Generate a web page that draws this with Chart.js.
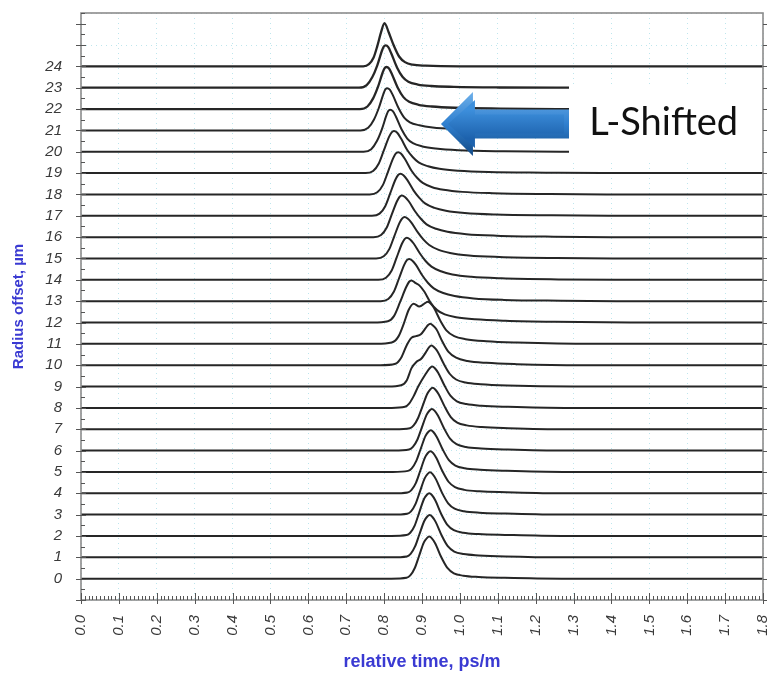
<!DOCTYPE html>
<html>
<head>
<meta charset="utf-8">
<script src="https://cdn.jsdelivr.net/npm/chart.js@4.4.0/dist/chart.umd.min.js"></script>
<style>
  html, body { margin: 0; padding: 0; background: #fff; }
  #wrap { width: 768px; height: 673px; position: relative; }
</style>
</head>
<body>
<div id="wrap"><canvas id="myChart"></canvas></div>
<script>
'use strict';

// radius offset of each trace (um)
const offsets = [0, 1, 2, 3, 4, 5, 6, 7, 8, 9, 10, 11, 12, 13, 14, 15, 16, 17, 18, 19, 20, 21, 22, 23, 24];

// relative time (ps/m) of the points
const traceTimes = [
  [0, 0.819, 0.859, 0.869, 0.881, 0.892, 0.905, 0.913, 0.919, 0.926, 0.935, 0.951, 0.967, 0.984, 1.009, 1.049, 1.119, 1.269, 1.8],
  [0, 0.82, 0.86, 0.87, 0.882, 0.893, 0.906, 0.914, 0.92, 0.927, 0.936, 0.952, 0.968, 0.985, 1.01, 1.05, 1.12, 1.27, 1.8],
  [0, 0.819, 0.859, 0.869, 0.881, 0.892, 0.905, 0.913, 0.919, 0.926, 0.935, 0.951, 0.967, 0.984, 1.009, 1.049, 1.119, 1.269, 1.8],
  [0, 0.821, 0.861, 0.871, 0.883, 0.894, 0.907, 0.915, 0.921, 0.928, 0.937, 0.953, 0.969, 0.986, 1.011, 1.051, 1.121, 1.271, 1.8],
  [0, 0.822, 0.862, 0.872, 0.884, 0.895, 0.908, 0.916, 0.922, 0.929, 0.938, 0.954, 0.97, 0.987, 1.012, 1.052, 1.122, 1.272, 1.8],
  [0, 0.823, 0.863, 0.873, 0.885, 0.896, 0.909, 0.917, 0.923, 0.93, 0.939, 0.955, 0.971, 0.988, 1.013, 1.053, 1.123, 1.273, 1.8],
  [0, 0.826, 0.866, 0.876, 0.888, 0.899, 0.912, 0.92, 0.926, 0.933, 0.942, 0.958, 0.974, 0.991, 1.016, 1.056, 1.126, 1.276, 1.8],
  [0, 0.828, 0.868, 0.878, 0.89, 0.901, 0.914, 0.922, 0.928, 0.935, 0.944, 0.96, 0.976, 0.993, 1.018, 1.058, 1.128, 1.278, 1.8],
  [0, 0.82, 0.855, 0.866, 0.878, 0.89, 0.91, 0.921, 0.927, 0.934, 0.943, 0.959, 0.975, 0.992, 1.017, 1.057, 1.127, 1.277, 1.8],
  [0, 0.81, 0.845, 0.86, 0.872, 0.885, 0.898, 0.91, 0.919, 0.925, 0.932, 0.941, 0.957, 0.973, 0.99, 1.015, 1.055, 1.125, 1.3, 1.8],
  [0, 0.79, 0.83, 0.845, 0.86, 0.872, 0.884, 0.897, 0.91, 0.916, 0.922, 0.929, 0.938, 0.954, 0.97, 0.99, 1.02, 1.07, 1.15, 1.32, 1.8],
  [0, 0.78, 0.82, 0.838, 0.852, 0.865, 0.878, 0.893, 0.909, 0.915, 0.922, 0.931, 0.948, 0.965, 0.985, 1.015, 1.07, 1.15, 1.35, 1.8],
  [0, 0.77, 0.81, 0.826, 0.842, 0.858, 0.866, 0.872, 0.882, 0.893, 0.906, 0.922, 0.94, 0.96, 0.99, 1.04, 1.12, 1.25, 1.45, 1.8],
  [0, 0.791, 0.811, 0.826, 0.839, 0.853, 0.86, 0.866, 0.874, 0.884, 0.901, 0.916, 0.931, 0.956, 0.986, 1.036, 1.116, 1.266, 1.416, 1.8],
  [0, 0.785, 0.805, 0.82, 0.833, 0.847, 0.854, 0.86, 0.868, 0.878, 0.895, 0.91, 0.925, 0.95, 0.98, 1.03, 1.11, 1.26, 1.41, 1.8],
  [0, 0.779, 0.799, 0.814, 0.827, 0.841, 0.848, 0.854, 0.862, 0.872, 0.889, 0.904, 0.919, 0.944, 0.974, 1.024, 1.104, 1.254, 1.404, 1.8],
  [0, 0.772, 0.792, 0.807, 0.82, 0.834, 0.841, 0.847, 0.855, 0.865, 0.882, 0.897, 0.912, 0.937, 0.967, 1.017, 1.097, 1.247, 1.397, 1.8],
  [0, 0.768, 0.788, 0.803, 0.816, 0.83, 0.837, 0.843, 0.851, 0.861, 0.878, 0.893, 0.908, 0.933, 0.963, 1.013, 1.093, 1.243, 1.393, 1.8],
  [0, 0.762, 0.782, 0.797, 0.81, 0.824, 0.831, 0.837, 0.845, 0.855, 0.872, 0.887, 0.902, 0.927, 0.957, 1.007, 1.087, 1.237, 1.387, 1.8],
  [0, 0.751, 0.771, 0.786, 0.799, 0.813, 0.82, 0.826, 0.834, 0.844, 0.861, 0.876, 0.891, 0.916, 0.946, 0.996, 1.076, 1.226, 1.376, 1.8],
  [0, 0.746, 0.766, 0.781, 0.794, 0.806, 0.811, 0.816, 0.823, 0.831, 0.846, 0.861, 0.876, 0.901, 0.936, 0.996, 1.116, 1.266, 1.8],
  [0, 0.738, 0.758, 0.773, 0.786, 0.798, 0.803, 0.808, 0.815, 0.823, 0.838, 0.853, 0.868, 0.893, 0.928, 0.988, 1.108, 1.258, 1.8],
  [0, 0.736, 0.756, 0.771, 0.784, 0.796, 0.801, 0.806, 0.813, 0.821, 0.836, 0.851, 0.866, 0.891, 0.926, 0.986, 1.106, 1.256, 1.8],
  [0, 0.734, 0.754, 0.769, 0.782, 0.794, 0.799, 0.804, 0.811, 0.819, 0.834, 0.849, 0.864, 0.889, 0.924, 0.984, 1.104, 1.254, 1.8],
  [0, 0.745, 0.76, 0.772, 0.782, 0.792, 0.801, 0.812, 0.825, 0.84, 0.855, 0.875, 0.91, 1.0, 1.8]
];

// pulse height above each trace's own baseline, same points as above
const traceHeights = [
  [0, 0, 0.04, 0.15, 0.5, 1.05, 1.7, 1.9, 1.97, 1.89, 1.65, 1.0, 0.5, 0.25, 0.14, 0.08, 0.04, 0, 0],
  [0, 0, 0.04, 0.16, 0.52, 1.07, 1.7, 1.91, 1.98, 1.9, 1.66, 1.02, 0.52, 0.27, 0.15, 0.09, 0.04, 0, 0],
  [0, 0, 0.04, 0.15, 0.5, 1.06, 1.72, 1.93, 2.0, 1.92, 1.67, 1.02, 0.52, 0.27, 0.15, 0.09, 0.05, 0, 0],
  [0, 0, 0.04, 0.15, 0.5, 1.05, 1.7, 1.91, 1.98, 1.9, 1.65, 1.02, 0.53, 0.28, 0.16, 0.09, 0.05, 0, 0],
  [0, 0, 0.04, 0.15, 0.49, 1.03, 1.68, 1.9, 1.97, 1.89, 1.65, 1.03, 0.54, 0.29, 0.16, 0.09, 0.05, 0, 0],
  [0, 0, 0.05, 0.17, 0.52, 1.05, 1.68, 1.88, 1.95, 1.87, 1.64, 1.04, 0.55, 0.3, 0.17, 0.1, 0.05, 0, 0],
  [0, 0, 0.05, 0.17, 0.52, 1.05, 1.67, 1.88, 1.95, 1.87, 1.64, 1.05, 0.56, 0.3, 0.17, 0.1, 0.05, 0, 0],
  [0, 0, 0.05, 0.18, 0.54, 1.06, 1.66, 1.87, 1.94, 1.86, 1.64, 1.06, 0.57, 0.31, 0.18, 0.1, 0.05, 0, 0],
  [0, 0, 0.05, 0.2, 0.55, 1.0, 1.6, 1.87, 1.94, 1.86, 1.64, 1.06, 0.57, 0.31, 0.18, 0.1, 0.05, 0, 0],
  [0, 0, 0.06, 0.3, 0.85, 1.15, 1.3, 1.6, 1.85, 1.92, 1.84, 1.64, 1.08, 0.6, 0.33, 0.19, 0.11, 0.05, 0, 0],
  [0, 0, 0.07, 0.35, 0.95, 1.28, 1.36, 1.45, 1.75, 1.88, 1.94, 1.86, 1.68, 1.1, 0.62, 0.35, 0.2, 0.11, 0.05, 0, 0],
  [0, 0, 0.06, 0.35, 0.95, 1.6, 1.88, 1.75, 1.92, 1.97, 1.9, 1.7, 1.1, 0.62, 0.36, 0.22, 0.12, 0.06, 0, 0],
  [0, 0, 0.06, 0.3, 0.95, 1.65, 1.91, 1.97, 1.86, 1.74, 1.45, 0.95, 0.58, 0.38, 0.25, 0.15, 0.08, 0.03, 0, 0],
  [0, 0, 0.1, 0.45, 1.05, 1.7, 1.92, 1.98, 1.91, 1.7, 1.2, 0.85, 0.6, 0.38, 0.24, 0.13, 0.06, 0.02, 0, 0],
  [0, 0, 0.1, 0.44, 1.04, 1.69, 1.91, 1.97, 1.9, 1.7, 1.22, 0.87, 0.62, 0.4, 0.25, 0.14, 0.07, 0.02, 0, 0],
  [0, 0, 0.1, 0.45, 1.05, 1.68, 1.88, 1.94, 1.87, 1.68, 1.22, 0.88, 0.63, 0.4, 0.26, 0.14, 0.07, 0.02, 0, 0],
  [0, 0, 0.1, 0.45, 1.05, 1.68, 1.89, 1.95, 1.88, 1.68, 1.2, 0.86, 0.6, 0.39, 0.25, 0.14, 0.07, 0.02, 0, 0],
  [0, 0, 0.1, 0.45, 1.05, 1.7, 1.91, 1.97, 1.9, 1.68, 1.18, 0.84, 0.58, 0.37, 0.24, 0.13, 0.06, 0.02, 0, 0],
  [0, 0, 0.1, 0.45, 1.05, 1.7, 1.92, 1.98, 1.91, 1.66, 1.12, 0.78, 0.54, 0.34, 0.22, 0.12, 0.06, 0.02, 0, 0],
  [0, 0, 0.1, 0.45, 1.05, 1.7, 1.91, 1.97, 1.9, 1.64, 1.08, 0.74, 0.5, 0.32, 0.2, 0.11, 0.05, 0.02, 0, 0],
  [0, 0, 0.12, 0.5, 1.05, 1.7, 1.91, 1.97, 1.9, 1.65, 1.05, 0.62, 0.4, 0.25, 0.15, 0.07, 0.02, 0, 0],
  [0, 0, 0.12, 0.5, 1.05, 1.7, 1.92, 1.98, 1.91, 1.65, 1.05, 0.6, 0.38, 0.24, 0.14, 0.07, 0.02, 0, 0],
  [0, 0, 0.12, 0.5, 1.05, 1.7, 1.91, 1.97, 1.9, 1.62, 1.0, 0.56, 0.34, 0.2, 0.12, 0.06, 0.02, 0, 0],
  [0, 0, 0.12, 0.5, 1.05, 1.72, 1.92, 1.98, 1.9, 1.6, 0.95, 0.5, 0.28, 0.15, 0.08, 0.04, 0.01, 0, 0],
  [0, 0, 0.1, 0.4, 0.95, 1.6, 2.03, 1.6, 1.0, 0.45, 0.2, 0.08, 0.03, 0, 0]
];

// axis ranges
const timeRange = [0, 1.8];
const offsetRange = [-1, 26.5];
const shownOffsetLabels = [0, 24];

const callout = 'L-Shifted';

const colors = {
  trace: '#262626',
  tickText: '#3a3a3a',
  title: '#3a3ad2',
  grid: 'rgba(110,200,215,0.45)',
  frame: '#8c8c8c',
  tick: '#555'
};

const axisFont = { family: 'Liberation Sans, Arial, sans-serif', size: 15, style: 'italic' };

const datasets = offsets.map((off, k) => ({
  data: traceTimes[k].map((t, i) => ({ x: t, y: off + traceHeights[k][i] })),
  borderColor: colors.trace,
  borderWidth: k >= 22 ? 2.3 : 2,
  pointRadius: 0,
  fill: false,
  cubicInterpolationMode: 'monotone'
}));

// frame, inward ticks and the arrow callout
const decorations = {
  id: 'decorations',
  afterDatasetsDraw(chart) {
    const { ctx, chartArea: a, scales: { x, y } } = chart;
    ctx.save();

    // white callout box covering the right part of traces 20-23
    const boxLeft = x.getPixelForValue(1.288);
    const boxTop = y.getPixelForValue(23.15);
    const boxBottom = y.getPixelForValue(19.6);
    ctx.fillStyle = '#fff';
    ctx.fillRect(boxLeft, boxTop, a.right - boxLeft, boxBottom - boxTop);

    ctx.fillStyle = '#111';
    ctx.font = '38px Lato, "Open Sans", sans-serif';
    ctx.textAlign = 'center';
    ctx.textBaseline = 'alphabetic';
    ctx.fillText(callout, x.getPixelForValue(1.538), y.getPixelForValue(20.77));

    // blue arrow pointing left
    const tipX = x.getPixelForValue(0.95);
    const tipY = y.getPixelForValue(21.3);
    const headX = tipX + 32;
    const headH = 32;
    const shaftH = 14.5;
    const tailX = boxLeft;
    const arrow = (inset) => {
      ctx.beginPath();
      ctx.moveTo(tipX + inset * 1.4, tipY);
      ctx.lineTo(headX + inset * 0.4, tipY - headH + inset * 1.6);
      ctx.lineTo(headX + inset * 0.4, tipY - shaftH + inset);
      ctx.lineTo(tailX - inset, tipY - shaftH + inset);
      ctx.lineTo(tailX - inset, tipY + shaftH - inset);
      ctx.lineTo(headX + inset * 0.4, tipY + shaftH - inset);
      ctx.lineTo(headX + inset * 0.4, tipY + headH - inset * 1.6);
      ctx.closePath();
    };
    let g = ctx.createLinearGradient(0, tipY - headH, 0, tipY + headH);
    g.addColorStop(0, '#6eb0ea');
    g.addColorStop(0.5, '#2f7fcf');
    g.addColorStop(1, '#134a86');
    arrow(0);
    ctx.fillStyle = g;
    ctx.fill();
    g = ctx.createLinearGradient(0, tipY - shaftH, 0, tipY + shaftH);
    g.addColorStop(0, '#3d8fdc');
    g.addColorStop(1, '#1d62ad');
    arrow(5);
    ctx.fillStyle = g;
    ctx.fill();

    // plot frame
    ctx.strokeStyle = colors.frame;
    ctx.lineWidth = 1.6;
    ctx.strokeRect(a.left, a.top, a.right - a.left, a.bottom - a.top);

    // ticks on the left and right edges
    ctx.strokeStyle = colors.tick;
    ctx.lineWidth = 1;
    ctx.beginPath();
    for (let v = offsetRange[0]; v <= offsetRange[1]; v += 0.5) {
      const py = Math.round(y.getPixelForValue(v)) + 0.5;
      if (Number.isInteger(v)) {
        ctx.moveTo(a.left - 5, py); ctx.lineTo(a.left + 5, py);
        ctx.moveTo(a.right, py); ctx.lineTo(a.right + 4, py);
      } else {
        ctx.moveTo(a.left, py); ctx.lineTo(a.left + 4, py);
      }
    }
    // ticks on the bottom edge, every 0.01
    for (let i = 0; i <= 180; i++) {
      const px = Math.round(x.getPixelForValue(i / 100)) + 0.5;
      if (i % 10 === 0) {
        ctx.moveTo(px, a.bottom - 7); ctx.lineTo(px, a.bottom + 4);
      } else {
        ctx.moveTo(px, a.bottom - 4); ctx.lineTo(px, a.bottom);
      }
    }
    ctx.stroke();
    ctx.restore();
  }
};

new Chart(document.getElementById('myChart'), {
  type: 'line',
  data: { datasets },
  options: {
    responsive: true,
    maintainAspectRatio: false,
    animation: false,
    layout: { padding: { top: 13, right: 5, left: 0, bottom: 0 } },
    plugins: { legend: { display: false }, tooltip: { enabled: false } },
    scales: {
      x: {
        type: 'linear',
        min: timeRange[0],
        max: timeRange[1],
        afterFit: (s) => { s.height = 73; s.paddingLeft = 0; s.paddingRight = 0; },
        ticks: {
          stepSize: 0.1,
          autoSkip: false,
          minRotation: 90,
          maxRotation: 90,
          padding: 15,
          color: colors.tickText,
          font: axisFont,
          callback: (v) => Number(v).toFixed(1)
        },
        grid: { color: colors.grid, drawTicks: false },
        border: { display: false, dash: [1, 4] },
        title: {
          display: true,
          text: 'relative time, ps/m',
          color: colors.title,
          font: { family: 'Liberation Sans, Arial, sans-serif', size: 18, weight: 'bold' },
          padding: { top: 0, bottom: 0 }
        }
      },
      y: {
        min: offsetRange[0],
        max: offsetRange[1],
        afterFit: (s) => { s.width = 81; s.paddingTop = 0; s.paddingBottom = 0; },
        ticks: {
          stepSize: 1,
          padding: 19,
          color: colors.tickText,
          font: axisFont,
          callback: (v) => (Number.isInteger(v) && v >= shownOffsetLabels[0] && v <= shownOffsetLabels[1]) ? String(v) : ''
        },
        grid: { color: colors.grid, drawTicks: false },
        border: { display: false, dash: [1, 4] },
        title: {
          display: true,
          text: 'Radius offset, µm',
          color: colors.title,
          font: { family: 'Liberation Sans, Arial, sans-serif', size: 15, weight: 'bold' },
          padding: { top: 10, bottom: 0 }
        }
      }
    }
  },
  plugins: [decorations]
});
</script>
</body>
</html>
